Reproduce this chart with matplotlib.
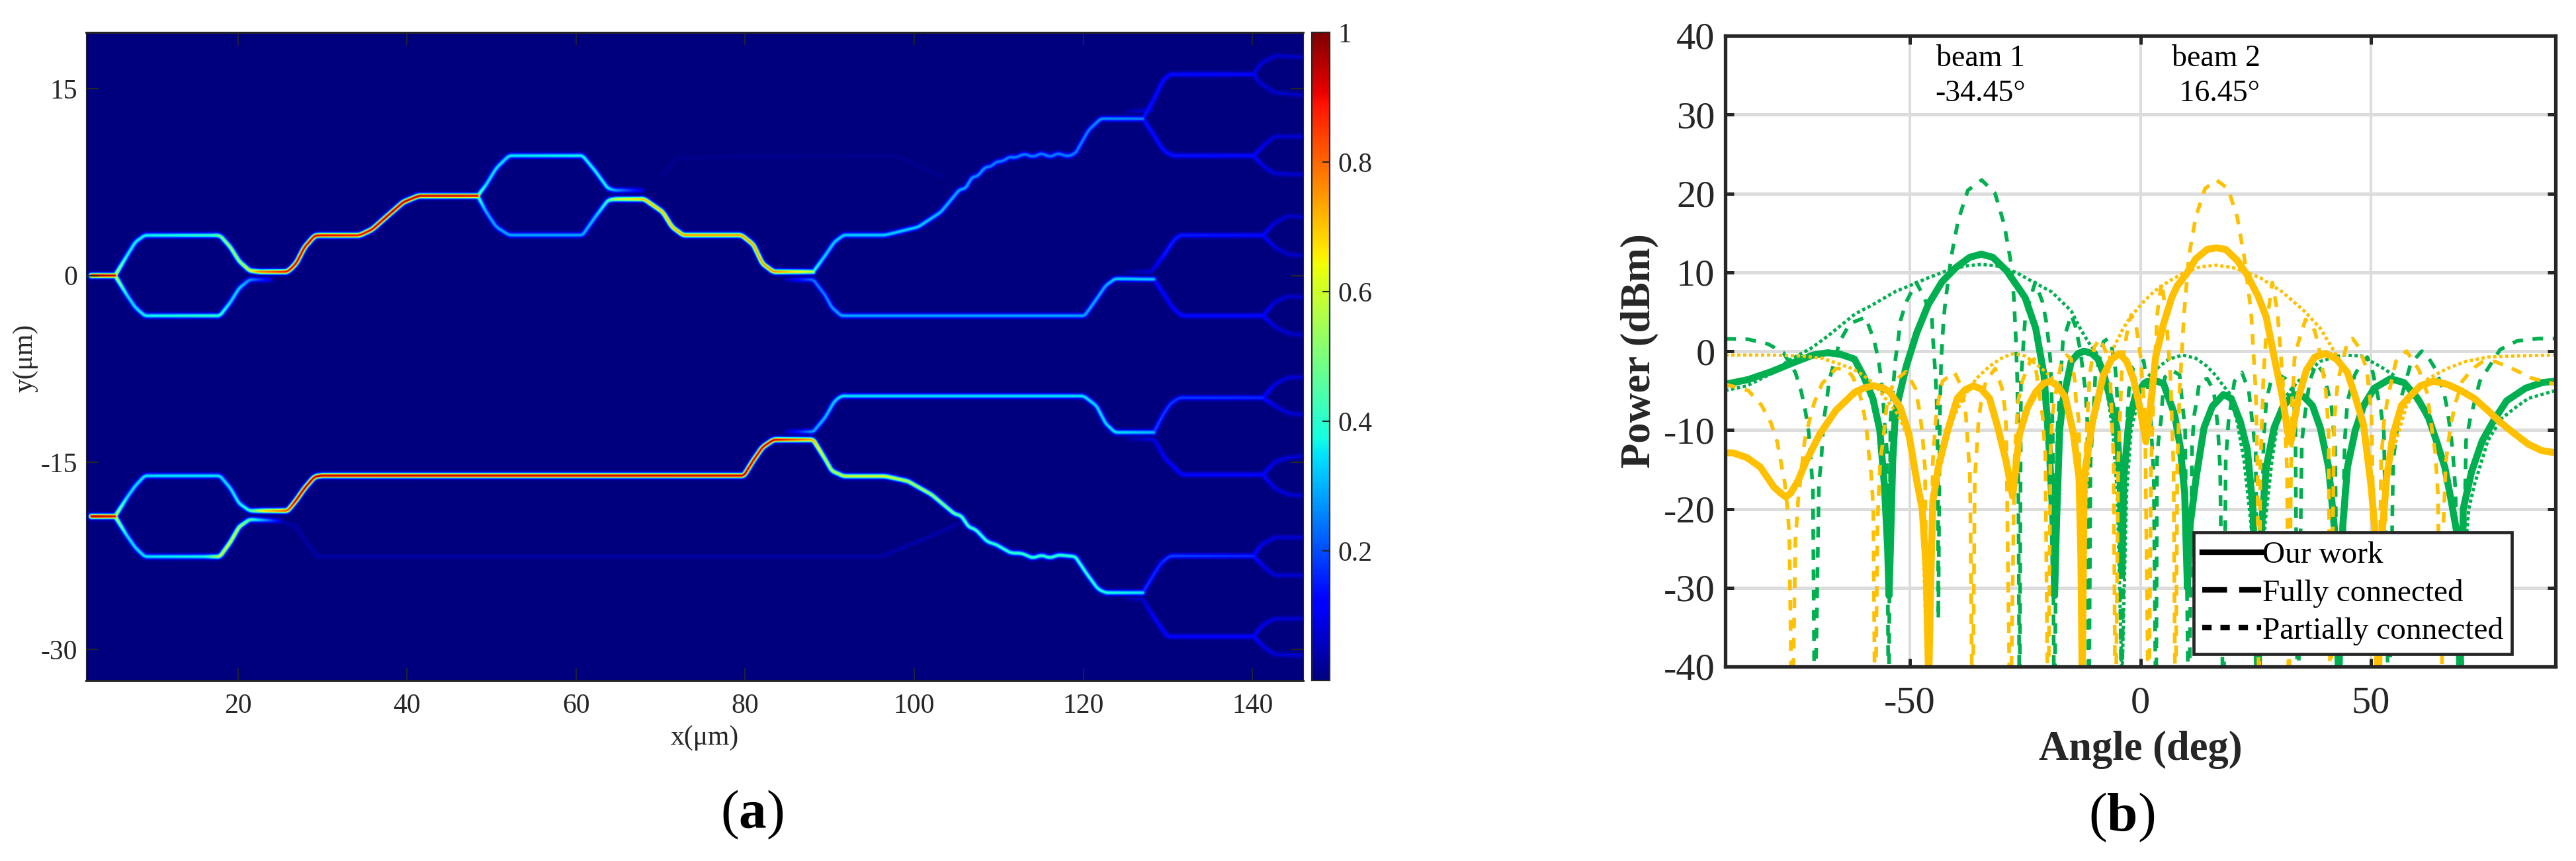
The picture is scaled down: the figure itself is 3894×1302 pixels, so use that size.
import numpy as np
import matplotlib
matplotlib.use("Agg")
import matplotlib.pyplot as plt
from matplotlib.lines import Line2D

plt.rcParams['font.family'] = ['Liberation Serif', 'DejaVu Serif']
plt.rcParams['axes.unicode_minus'] = False
plt.rcParams['mathtext.fontset'] = 'custom'
plt.rcParams['mathtext.rm'] = 'Liberation Serif'
plt.rcParams['mathtext.bf'] = 'Liberation Serif:bold'

W, H = 3894, 1302
INK = '#262626'

# ---- panel (a): waveguide network, points are (x um, y um, field intensity)
guide_in_a = [(2.6,0,1.0),(5.4,0,0.95)]
guide_a_up = [(5.4,0,0.6),(6.8,1.6,.38),(7.8,2.7,.38),(8.9,3.23,.38),(16.8,3.23,.42),(17.8,3.23,.5),(19.05,2.27,.55),
              (20.05,1.17,.55),(21.3,0.4,.62),(22.5,0.3,.8),(25.8,0.3,.92),(26.8,0.95,.95),(27.8,2.27,.95),(29,3.19,.95),
              (29.5,3.23,.95),(34.3,3.23,.92),(35.8,3.7,.95),(37.8,4.9,.97),(39.5,5.9,.97),(41.3,6.4,.97),(48.3,6.4,.95)]
guide_b_up = [(48.3,6.4,.5),(49.3,7.3,.36),(50.5,8.64,.36),(52,9.63,.36),(60.7,9.63,.38),(62.2,8.4,.38),(63.7,7.0,.38),(64.5,6.85,.3),(67.7,6.85,.1)]
guide_b_dn = [(48.3,6.4,.45),(49.3,5.1,.3),(50.5,3.9,.3),(52,3.25,.3),(60.7,3.25,.3),(62.2,4.7,.33),(63.7,6.05,.42),(64.5,6.14,.6),
              (68,6.14,.72),(70.2,5.1,.72),(71.3,3.9,.72),(72.6,3.25,.76),(79.5,3.25,.76),(80.9,2.5,.75),(82,0.95,.76),(83.3,0.3,.78),(88,0.3,.6)]
guide_c_up = [(88,0.3,.4),(89.4,1.6,.34),(90.5,2.7,.34),(91.6,3.25,.34),(96.5,3.25,.34),(100.4,3.9,.34),(103.1,5.1,.32),(105.3,6.9,.3),
              (106,7.0,.3),(106.8,7.9,.28),(107.5,8.0,.28),(108.3,8.7,.28),(109,8.75,.26),(109.7,9.15,.26),(110.5,9.2,.26),(111.2,9.55,.26),
              (111.9,9.45,.26),(113,9.8,.26),(114,9.5,.26),(115,9.85,.26),(116,9.5,.26),(117,9.85,.26),(118,9.55,.26),(119,9.8,.26),(120.6,11.7,.26),(122,12.6,.28),(127,12.6,.26)]
guide_d_up = [(127,12.6,.15),(128.3,14.14,.14),(129.4,15.7,.14),(130.2,16.16,.14),(140.1,16.16,.13)]
stub_d = [(125,13.15,.02),(127,13.26,.07),(128,13.3,.07)]
guide_d_dn = [(127,12.6,.15),(128.3,11.28,.14),(129.4,10.07,.14),(130.5,9.63,.15),(140.1,9.63,.14)]
fan_1 = [(140.1,16.16,.1),(140.9,17,.08),(142.6,17.66,.07),(146,17.55,.06)]
fan_2 = [(140.1,16.16,.1),(140.9,15.46,.08),(142.6,14.7,.07),(146,14.47,.06)]
fan_3 = [(140.1,9.63,.12),(141.5,10.6,.09),(142.6,11.17,.08),(146,11.17,.07)]
fan_4 = [(140.1,9.63,.12),(141.5,8.64,.09),(142.6,8.2,.08),(146,8.1,.07)]
guide_a_dn = [(5.4,0,.6),(6.8,-1.58,.36),(7.8,-2.57,.36),(8.9,-3.23,.38),(17.8,-3.23,.42),(19.05,-2.13,.35),(20.05,-1.03,.35),(21.3,-0.33,.28),(23.8,-0.33,.1)]
guide_c_dn = [(84.7,-0.33,.04),(88,-0.33,.25),(89.4,-1.58,.26),(90.2,-2.57,.28),(91.3,-3.23,.3),(120.1,-3.23,.3),(121.5,-1.9,.3),(122.6,-0.81,.3),(123.7,-0.26,.34),(128.3,-0.3,.33)]
guide_e_up = [(125,0.3,.02),(128,0.3,.08),(129.7,1.83,.16),(130.5,2.7,.16),(131.3,3.23,.16),(141.2,3.23,.14)]
guide_e_dn = [(128.3,-0.3,.14),(129.7,-1.7,.13),(130.5,-2.57,.13),(131.6,-3.23,.14),(141.2,-3.23,.14)]
fan_5 = [(141.2,3.23,.12),(142.6,4.24,.08),(144.2,4.8,.07),(146,4.7,.06)]
fan_6 = [(141.2,3.23,.12),(142.6,2.27,.08),(144.2,1.7,.07),(146,1.6,.06)]
fan_7 = [(141.2,-3.23,.12),(142.6,-2.13,.08),(144.2,-1.65,.07),(146,-1.74,.06)]
fan_8 = [(141.2,-3.23,.12),(142.6,-4.1,.08),(144.2,-4.66,.07),(146,-4.77,.06)]

guide_in_b = [(2.6,-19.35,1.0),(5.4,-19.35,.95)]
guide_f_up = [(5.4,-19.35,.6),(6.8,-17.83,.36),(7.8,-16.88,.36),(8.9,-16.09,.36),(17.8,-16.09,.36),(19.05,-17.1,.36),(20.05,-18.3,.38),(21.3,-18.9,.42),
              (23,-18.9,.7),(25.8,-18.9,.85),(26.8,-18.07,.95),(27.8,-17.1,.97),(29,-16.16,.97),(29.8,-16.07,.98),(79.8,-16.07,.97),(80.9,-14.86,.95),
              (82,-13.79,.95),(83.3,-13.19,.96),(88,-13.19,.75),(89.4,-14.74,.58),(90.2,-15.69,.58),(91.6,-16.12,.6),(96.5,-16.12,.62),(99.2,-16.52,.58),
              (102,-17.6,.55),(104.7,-19.14,.48),(105.5,-19.3,.46),(106.4,-20.2,.44),(107.2,-20.4,.44),(108.6,-21.4,.42),(109.6,-21.6,.42),(111.4,-22.3,.42),
              (112.6,-22.3,.42),(114,-22.7,.42),(115,-22.45,.42),(116,-22.7,.42),(117,-22.45,.42),(119,-22.58,.42),(120.4,-24,.42),
              (121.7,-25.2,.4),(122.6,-25.48,.4),(127,-25.48,.36)]
guide_g_dn = [(5.4,-19.35,.6),(6.8,-20.9,.36),(7.8,-21.87,.36),(8.9,-22.58,.36),(16,-22.58,.38),(17.8,-22.58,.6),(19.05,-21.4,.62),(20.05,-20.2,.58),(21.3,-19.6,.45),(24.8,-19.7,.12)]
faint_1 = [(24.8,-19.7,.035),(26.8,-20.2,.035),(29.3,-22.58,.035),(96,-22.58,.035),(102,-20.92,.035),(105,-20,.035)]
faint_2 = [(70.2,7.98,.015),(71.9,9.5,.015),(97.6,9.63,.015),(103.1,8,.015)]
guide_h_up = [(127,-25.48,.18),(128.3,-24,.17),(129.2,-23.06,.17),(130.2,-22.53,.2),(140.1,-22.53,.17)]
guide_h_dn = [(125,-26,.02),(127,-26,.07),(128.3,-27.46,.12),(129.9,-29,.13),(140.1,-29,.13)]
fan_9 = [(140.1,-22.53,.14),(141,-21.63,.09),(142.6,-21.04,.08),(146,-21.04,.07)]
fan_10 = [(140.1,-22.53,.14),(141.5,-23.53,.09),(142.6,-24.08,.08),(146,-24.08,.07)]
fan_11 = [(140.1,-29,.12),(141.2,-28.05,.09),(142.6,-27.57,.08),(146,-27.57,.07)]
fan_12 = [(140.1,-29,.12),(141.5,-29.95,.09),(142.6,-30.43,.08),(146,-30.55,.07)]
guide_i = [(84.7,-12.55,.04),(88,-12.55,.3),(89.4,-11.41,.32),(90.5,-10.1,.34),(91.3,-9.68,.36),(120,-9.68,.36),(121.5,-10.46,.35),(122.6,-11.89,.35),(123.7,-12.6,.36),(128.3,-12.6,.32)]
guide_j_up = [(128.3,-12.6,.2),(129.4,-11.17,.19),(130.2,-10.34,.19),(131.3,-9.82,.19),(141.2,-9.82,.17)]
guide_j_dn = [(125,-13.15,.02),(128.3,-13.15,.09),(129.7,-14.74,.12),(131.6,-16,.13),(141.2,-16,.13)]
fan_13 = [(141.2,-9.82,.14),(142.6,-8.73,.09),(144.2,-8.18,.08),(146,-8.18,.07)]
fan_14 = [(141.2,-9.82,.14),(142.6,-10.46,.09),(144.2,-11.05,.08),(146,-11.17,.07)]
fan_15 = [(141.2,-16,.12),(142.6,-14.98,.09),(144.2,-14.62,.08),(146,-14.5,.07)]
fan_16 = [(141.2,-16,.12),(142.6,-17.1,.09),(144.2,-17.6,.08),(146,-17.7,.07)]

guides = [guide_in_a, guide_a_up, guide_b_up, guide_b_dn, guide_c_up, guide_d_up, stub_d, guide_d_dn, fan_1, fan_2, fan_3, fan_4,
          guide_a_dn, guide_c_dn, guide_e_up, guide_e_dn, fan_5, fan_6, fan_7, fan_8, guide_in_b, guide_f_up, guide_g_dn, faint_1, faint_2,
          guide_h_up, guide_h_dn, fan_9, fan_10, fan_11, fan_12, guide_i, guide_j_up, guide_j_dn, fan_13, fan_14, fan_15, fan_16]

# ---- panel (b): radiation patterns, (angle deg, power dBm)
our_green = [(-90,-4.2),(-85,-3.6),(-80,-2.6),(-75,-1.4),(-71,-.5),(-67.8,-.2),(-65,-.4),(-62,-1),(-60,-3.2),(-58,-6),(-56.5,-10),(-55.5,-17),(-54.8,-25),(-54.5,-31),(-54.2,-25),(-53.7,-14),(-53.1,-7.7),(-52,-5),(-50.8,-2),(-48.5,2.3),(-46,5.9),(-43,8.8),(-40,10.6),(-37,11.9),(-34.5,12.3),(-32,11.9),(-29,10.2),(-27,8.5),(-25,6.8),(-22.7,2.9),(-20.9,-3),(-19.8,-12),(-18.9,-22),(-18.6,-31),(-18.2,-22),(-17.5,-10),(-16.8,-6.3),(-15,-1.3),(-13.5,-.3),(-12.2,0),(-10.5,-.3),(-9.2,-1),(-8,-2.8),(-6.9,-5.2),(-5.1,-9.7),(-4.4,-16),(-4,-28),(-3.6,-16),(-2.5,-9),(-1,-5.5),(1,-4),(3,-3.7),(5,-4.1),(7.4,-8),(8.6,-12),(9.6,-18),(10.2,-30),(10.8,-22),(12.1,-16),(13.8,-9.7),(15.6,-7),(18,-5.5),(19.7,-6),(21.7,-9),(23.2,-12.5),(24.4,-20),(25.5,-42),(26.3,-22),(27.3,-14.7),(29,-9.7),(30.8,-7.2),(32.6,-5.8),(34,-5.5),(35.5,-5.8),(37.3,-6.9),(39,-9.7),(40.8,-14.7),(42,-22),(43,-42),(43.9,-22),(44.9,-14.7),(46.6,-10),(48.4,-6.9),(50.7,-4.7),(54.2,-3.5),(57.2,-4),(60.1,-6),(62.4,-8.3),(64.2,-11.4),(66,-14.7),(67.4,-19),(68.6,-23),(69.3,-42),(70,-20),(71.8,-15.3),(74.1,-11.4),(76.5,-8.9),(79.4,-6.3),(83.5,-4.7),(87,-4),(90,-3.8)]
our_yellow = [(-90,-12.9),(-88.3,-12.9),(-85.3,-13.5),(-82.4,-14.7),(-79.5,-17.2),(-78,-18),(-76.9,-18.5),(-75.8,-18),(-74.2,-16.4),(-72.5,-14),(-69.5,-10.5),(-66,-7.5),(-61.9,-5.2),(-60,-4.7),(-58.1,-4.4),(-56,-4.6),(-54.3,-5.2),(-52,-7.2),(-50.2,-10.5),(-48.5,-16.4),(-47.3,-20),(-46.4,-28),(-45.9,-42),(-45.4,-28),(-45,-19),(-43.8,-14.7),(-42,-10.5),(-39.7,-6),(-38,-4.9),(-36.2,-4.4),(-34.5,-4.8),(-32.7,-6),(-30.9,-9.7),(-29.1,-14),(-27.7,-18.4),(-26.2,-10.5),(-24.5,-7.2),(-22.7,-5.2),(-21,-4.1),(-19.5,-3.8),(-18,-4.4),(-16.3,-5.8),(-14.5,-10.5),(-13.3,-16),(-12.9,-26),(-12.6,-42),(-12.2,-16),(-10.4,-9),(-8,-3),(-6.2,-1),(-4.5,-.3),(-3,-1.3),(-1.5,-3.5),(0,-7.5),(1.2,-11.5),(2.2,-7),(3.3,-.75),(5,3.4),(6.8,6.8),(8,8.3),(10,9.8),(12,11.7),(14.5,12.9),(16.5,13.1),(18.5,12.9),(21,11.5),(23,9.8),(25.5,7),(27.3,4.3),(29,-.75),(30.8,-5.8),(32,-10.5),(32.6,-11.6),(33.3,-9),(34.3,-5.8),(36,-2.4),(37.8,-.75),(40.2,-.3),(42.5,-1),(44.9,-2.7),(46.6,-5.8),(48.4,-9.4),(50.1,-17.5),(51,-24),(51.6,-42),(52.3,-24),(53.4,-16),(54.8,-10.5),(56.6,-6.9),(58.3,-5.8),(60.7,-4.4),(63.6,-3.8),(66.5,-4.2),(69.5,-5),(72.4,-6),(75.3,-7.5),(78.2,-9.1),(81.2,-10.5),(84.1,-11.8),(87,-12.6),(90,-12.9)]
part_green = [(-90,-5),(-85.3,-4.4),(-79.5,-2.7),(-76.6,-1.3),(-71.3,.4),(-67.8,1.9),(-61.9,4.7),(-58,5.9),(-53,7.6),(-50,8.3),(-46,9.3),(-42,10.2),(-38,10.8),(-34.5,11),(-31,10.8),(-27,10),(-23,8.7),(-19.2,7.5),(-15,5.1),(-12.8,2.6),(-11,.9),(-9.2,-.5),(-7.5,-4),(-6,-10),(-5,-18),(-4,-42),(-3,-18),(-2,-10),(0,-5),(2,-3),(4.2,-1.9),(6.2,-1),(9.2,-.5),(12,-.9),(14.4,-1.9),(16.2,-3),(18,-4.4),(19.4,-5.4),(21,-9),(22.5,-14),(24,-22),(25.5,-42),(27,-22),(28.5,-14),(30,-8),(31.3,-6),(32.6,-4.9),(35.5,-3),(39,-1.3),(43.7,-.5),(47.8,-.6),(51.9,-1.9),(54.8,-3),(57.7,-4.7),(60.7,-6.9),(63,-9.7),(65.4,-14),(67.7,-19),(69,-27),(69.5,-42),(70.2,-27),(71.2,-20),(72.4,-17),(75.3,-11.4),(78.2,-8.6),(81.2,-7.2),(84.1,-6),(87,-5.5),(90,-5)]
part_yellow = [(-90,-.5),(-80,-.5),(-73.6,-.6),(-69,-.9),(-65.4,-1.6),(-62.5,-2.2),(-60.2,-3),(-57.8,-4.1),(-54.9,-6.3),(-52.6,-8),(-50.8,-10.3),(-49.6,-12.8),(-48.5,-16),(-47.2,-22),(-46.2,-42),(-45.2,-22),(-44,-15),(-42.6,-12),(-40.9,-8.9),(-38.5,-6),(-35.6,-3.5),(-32.7,-1.9),(-29.7,-.75),(-27.4,-.3),(-25,-.6),(-22.7,-1.6),(-20.4,-2.7),(-18.6,-3.7),(-16.5,-6),(-15,-10),(-13.5,-17),(-12.6,-42),(-11.8,-18),(-10.5,-10),(-8.5,-4),(-6.3,-.2),(-4,2.6),(-2.2,4.3),(.6,6.2),(3,7.6),(6,8.8),(9,9.8),(13,10.7),(16.5,10.9),(20,10.6),(23,10),(26,9.3),(30.8,7.5),(35.5,5.1),(39,2.9),(42,0),(44,-2),(46,-5),(48,-9),(49.5,-14),(50.6,-22),(51.5,-42),(52.5,-22),(54,-14),(55.4,-11.4),(57.7,-6.9),(60,-4.8),(62.4,-3.5),(66.5,-2.2),(70.6,-1.3),(75.3,-.75),(81.2,-.6),(90,-.5)]
full_green = [(-90,1.56),(-85,1.5),(-80.7,.9),(-77.4,-.2),(-74.8,-2.7),(-73.5,-5.2),(-72.6,-7.7),(-71.9,-10.3),(-71,-17.5),(-70.6,-50),(-69.7,-16.7),(-69.2,-14),(-68.7,-8.9),(-68,-6.3),(-67.5,-3.8),(-65.2,1.2),(-63,3.5),(-59.6,4.3),(-57.8,1.5),(-56.8,-1),(-56.2,-3.5),(-55.8,-6),(-55.5,-8.9),(-54.9,-13),(-54.6,-50),(-54.2,-8.9),(-53.1,-1),(-52.5,1.5),(-52,3.9),(-50.8,6.2),(-48.6,8.7),(-47,7),(-45.2,4.3),(-45,1.8),(-44.7,-.75),(-44.4,-3.3),(-44.2,-5.8),(-43.9,-13.9),(-43.8,-34),(-43.5,-9),(-43.2,-1.3),(-42.7,3.7),(-42.3,6.2),(-41,12),(-39.5,16.6),(-37.4,20.4),(-34.4,21.7),(-31.5,20),(-29.5,16),(-28,11),(-27.4,6.5),(-27,1.5),(-26.7,-3.5),(-26.5,-11),(-26.2,-50),(-25.9,-4),(-25.3,1.5),(-25,4),(-24,6.5),(-22.8,8.7),(-21.2,6.2),(-20.4,3.7),(-19.9,1.2),(-19.5,-1.3),(-19,-10),(-18.7,-50),(-18,-10),(-16.8,1.2),(-15,4.6),(-14,3),(-13,0),(-12.5,-2.4),(-11.9,-5),(-11.5,-9),(-11.2,-50),(-10.8,-14),(-10,-6),(-9.8,-3.3),(-8,1.2),(-7,1.6),(-6.2,.5),(-5.4,-2.4),(-5.1,-5),(-4.5,-14),(-4.1,-50),(-3.5,-15),(-2.5,-5),(-1.5,-2),(.7,-1.2),(2,-6),(2.9,-16),(3.4,-50),(3.6,-13.9),(3.9,-11.4),(4.5,-8.6),(4.8,-6),(5.3,-3.3),(7,-2.5),(8.5,-3),(8.9,-5.5),(9.7,-10),(10.5,-50),(11.2,-12),(11.7,-8),(12.3,-6),(12.8,-3.8),(14.5,-3.5),(15.9,-5),(16.8,-9.7),(17.3,-15),(18,-50),(18.5,-14),(19.1,-8.9),(20.4,-3.8),(22,-2.7),(23.5,-5),(25,-12.8),(25.6,-50),(26.7,-11.4),(27.3,-6.3),(28.3,-3.8),(30,-3),(31.5,-3.5),(33,-4.4),(33.6,-9),(34.1,-50),(35,-11.6),(35.5,-8.8),(36.7,-3.8),(37.9,-1.9),(38.2,-1.6),(39.6,-2.7),(40.5,-4.7),(41.4,-6.9),(42.2,-12),(43,-50),(44.3,-11.4),(44.9,-6.3),(46.5,-3),(47.8,-1.6),(49.2,-.75),(50.4,-2.7),(52.2,-7.7),(52.8,-10.3),(53.9,-50),(54.8,-13.9),(56.5,-6),(58.6,-1.6),(61,0),(62.1,-.5),(63.9,-2.2),(65.7,-5),(66.5,-7.2),(67.1,-9.7),(67.7,-12.5),(68.3,-17.5),(69.5,-50),(70.6,-11.4),(71.5,-8.6),(73.6,-3.8),(78,.2),(81.7,1.3),(86.4,1.6),(90,1.6)]
full_yellow = [(-90,-4.2),(-85,-5),(-82.1,-6.9),(-80.1,-9.1),(-78.7,-11.6),(-77.9,-14.2),(-77.1,-16.7),(-76.6,-19.5),(-76.3,-21.7),(-76.1,-24),(-75.5,-50),(-74.8,-24),(-74.5,-21.6),(-74.2,-18.9),(-72.8,-11.4),(-71.8,-8.9),(-70.7,-6.5),(-69,-4.1),(-66,-2.2),(-64,-2.3),(-62.5,-3.1),(-61,-5),(-59.9,-7.9),(-59.3,-10.4),(-58.9,-12.9),(-58.4,-15.4),(-58.1,-18),(-57.9,-20.6),(-57.5,-50),(-57,-21.7),(-56.4,-13.9),(-55.8,-11.4),(-54.9,-6.3),(-53.4,-3.8),(-50.8,-2.6),(-48.8,-4.7),(-48,-7.2),(-47.4,-9.8),(-47,-12.5),(-46.7,-14.9),(-46,-50),(-45,-14),(-44.4,-8.9),(-43.8,-6.3),(-42.9,-3.8),(-40.3,-2.7),(-38.8,-4.5),(-37.9,-7.6),(-37.6,-10.3),(-37.3,-12.8),(-37,-15.3),(-36.9,-17.8),(-36.4,-50),(-35.9,-16),(-35.6,-13.6),(-35.1,-8.9),(-34.5,-6.3),(-33.5,-3.8),(-31.5,-2.2),(-30,-4.7),(-29.4,-7.2),(-29.1,-9.7),(-28.2,-50),(-27.3,-14),(-26.8,-8.9),(-26.5,-6.3),(-25.6,-3.8),(-23.9,-1.3),(-23,-1),(-22.4,-3.3),(-21.2,-8.3),(-20.9,-10.8),(-20.6,-13.3),(-20,-50),(-19.5,-13),(-19.2,-8.9),(-18.6,-6),(-17.1,-1.3),(-16,-.5),(-15,-1),(-14.2,-3.8),(-14,-6),(-13.4,-8.6),(-13.3,-11),(-12.6,-50),(-12,-14),(-11,-3),(-10,.5),(-8.8,1.6),(-7.5,0),(-6.5,-4),(-5.8,-14),(-5.4,-50),(-4.8,-14),(-4,-2),(-3,2),(-2,4.6),(-1,3.5),(0,-.5),(1,-8),(1.8,-50),(2.3,-15),(3,-3),(3.7,5),(4.6,8.7),(5.5,5),(6.5,-3),(7.2,-15),(7.6,-50),(8,-15),(8.5,-5),(9.5,5),(10.5,12),(12,17),(14,20.6),(16.5,21.7),(19,20.6),(21,17),(22.5,12),(24,5),(25,-5),(25.4,-15),(25.7,-50),(26,-15),(26.7,-3),(27.5,4),(28.6,8.7),(29.7,5),(30.8,-3),(31.8,-15),(32.2,-50),(32.6,-18),(32.9,-6.3),(33.2,-3.5),(33.4,-1),(34.3,1.2),(35.8,4),(37.8,2.6),(38.7,.4),(39.6,-2.7),(40.2,-5),(40.5,-7.5),(40.8,-10.3),(41.2,-50),(42,-9),(42.8,-3.8),(44.9,1.2),(46,1.6),(47.5,.4),(49,-2.2),(49.6,-5),(50.1,-8),(51.4,-50),(52.2,-13.9),(52.5,-11.4),(52.8,-9.1),(53.6,-6),(55.4,-1.3),(57.7,0),(58.3,-.5),(60.4,-2.4),(62.1,-5.2),(62.7,-7.7),(63.3,-10.3),(63.9,-12.8),(64.2,-15.3),(64.5,-18),(65.2,-50),(65.7,-22),(65.9,-19),(66.2,-14.2),(66.8,-11.4),(67.4,-9.1),(68.3,-6.6),(69.8,-3.8),(72.1,-2.2),(74,-1.4),(76.8,-1.3),(80.6,-2.2),(84.7,-3.4),(90,-4.2)]
legend_labels = ['Our work', 'Fully connected', 'Partially connected']
beam_labels = [('beam 1', '-34.45°'), ('beam 2', ' 16.45°')]
beam_angles = [-34.7, 16.4]


def ax_px(l, t, r, b):
    return [l / W, 1 - b / H, (r - l) / W, (b - t) / H]


def densify(p, step=0.6):
    """Add drawing vertices along a guide so corner rounding stays local."""
    p = np.asarray(p, float)
    out = [p[0]]
    for a, b in zip(p[:-1], p[1:]):
        n = max(1, int(np.hypot(b[0] - a[0], b[1] - a[1]) / step))
        for k in range(1, n + 1):
            out.append(a + (b - a) * k / n)
    return np.array(out)


def chaikin(p, n=2):
    for _ in range(n):
        q = 0.75 * p[:-1] + 0.25 * p[1:]
        s = 0.25 * p[:-1] + 0.75 * p[1:]
        m = np.empty((2 * len(q), 3))
        m[0::2], m[1::2] = q, s
        p = np.vstack([p[0], m, p[-1]])
    return p


XL, YL = (2.0, 146.0), (-32.5, 19.5)
PX, PY = 12.78, 18.85        # screen pixels per micron
SIG = 3.6
nx, ny = 1440, 780
xs = np.linspace(*XL, nx)
ys = np.linspace(*YL, ny)
field = np.zeros((ny, nx))
for g in guides:
    p = chaikin(densify(g), 2)
    for a, b in zip(p[:-1], p[1:]):
        pad = 3.0 * SIG
        x0, x1 = min(a[0], b[0]) - pad / PX, max(a[0], b[0]) + pad / PX
        y0, y1 = min(a[1], b[1]) - pad / PY, max(a[1], b[1]) + pad / PY
        i0, i1 = np.searchsorted(xs, [x0, x1])
        j0, j1 = np.searchsorted(ys, [y0, y1])
        if i1 <= i0 or j1 <= j0:
            continue
        gx, gy = np.meshgrid(xs[i0:i1], ys[j0:j1])
        dx, dy = (b[0] - a[0]) * PX, (b[1] - a[1]) * PY
        px, py = (gx - a[0]) * PX, (gy - a[1]) * PY
        t = np.clip((px * dx + py * dy) / max(dx * dx + dy * dy, 1e-9), 0, 1)
        d2 = (px - t * dx) ** 2 + (py - t * dy) ** 2
        v = (a[2] + t * (b[2] - a[2])) * np.exp(-d2 / SIG ** 2)
        field[j0:j1, i0:i1] = np.maximum(field[j0:j1, i0:i1], v)

fig = plt.figure(figsize=(W / 100, H / 100), dpi=100, facecolor='white')

# panel (a)
ax = fig.add_axes(ax_px(129.5, 49, 1970, 1029))
im = ax.imshow(field, origin='lower', extent=[*XL, *YL], aspect='auto', cmap='jet', vmin=0, vmax=1, interpolation='bilinear')
ax.set_xticks(range(20, 141, 20))
ax.set_yticks([-30, -15, 0, 15])
ax.tick_params(axis='x', direction='in', length=14, width=1.2, color=INK, top=True, labelsize=30, labelcolor=INK, pad=14)
ax.tick_params(axis='y', direction='in', length=14, width=1.5, color=INK, right=True, labelsize=30, labelcolor=INK, pad=9)
for k, s in ax.spines.items():
    s.set_color(INK)
    s.set_linewidth(2.2 if k in ('top', 'bottom') else 0.8)
fig.text(1065 / W, 1 - 1116 / H, 'x(μm)', fontsize=30, color=INK, ha='center', va='center')
fig.text(38 / W, 1 - 541 / H, 'y(μm)', fontsize=30, color=INK, ha='center', va='center', rotation=90)

cax = fig.add_axes(ax_px(1983, 49, 2010, 1029))
cb = fig.colorbar(im, cax=cax)
cb.set_ticks([0.2, 0.4, 0.6, 0.8, 1.0], labels=['0.2', '0.4', '0.6', '0.8', '1'])
cax.tick_params(direction='in', length=8, width=1.5, color=INK, labelsize=30, labelcolor=INK, pad=9)
cb.outline.set_edgecolor(INK)
cb.outline.set_linewidth(1.6)

fig.text(1137 / W, 1 - 1232 / H, r'($\mathbf{a}$)', fontsize=60, color='black', ha='center', va='center')

# panel (b)
bx = fig.add_axes(ax_px(2608, 54, 3863, 1008))
GREEN, YELLOW = '#00B050', '#FFC000'
bx.set_xlim(-90, 90)
bx.set_ylim(-40, 40)
bx.set_xticks([-50, 0, 50])
bx.set_yticks(range(-40, 41, 10))
bx.xaxis.grid(True, color='#dcdcdc', lw=2.9, zorder=0)
bx.yaxis.grid(True, color='#dcdcdc', lw=3.6, zorder=0)
bx.set_axisbelow(True)
DOT = (0, (1.0, 0.8))
DASH = (0, (2.9, 2.6))
series = [(part_green, GREEN, 3.6, DOT), (full_green, GREEN, 4.0, DASH), (our_green, GREEN, 7.6, '-'),
          (part_yellow, YELLOW, 3.6, DOT), (full_yellow, YELLOW, 4.0, DASH), (our_yellow, YELLOW, 7.6, '-')]
for pts, col, lw, ls in series:
    xy = np.array(pts)
    line, = bx.plot(xy[:, 0], xy[:, 1], color=col, lw=lw, ls=ls)
    line.set_dash_capstyle('butt')
    line.set_solid_joinstyle('round')
bx.tick_params(direction='in', length=9, width=3.6, color=INK, top=True, right=True, labelsize=42, labelcolor=INK, pad=11)
bx.tick_params(axis='x', pad=21)
for s in bx.spines.values():
    s.set_color(INK)
    s.set_linewidth(3.8)
bx.set_xlabel('Angle (deg)', fontsize=45, fontweight='bold', color=INK, labelpad=11)
fig.text(2478 / W, 1 - 531 / H, 'Power (dBm)', fontsize=45, fontweight='bold', color=INK, ha='center', va='center', rotation=90)
for a, (l1, l2) in zip(beam_angles, beam_labels):
    bx.annotate(l1, (a, 40), xytext=(0, -35 / 1.389), textcoords='offset points', ha='center', va='center', fontsize=33, color='black')
    bx.annotate(l2, (a, 40), xytext=(0, -88 / 1.389), textcoords='offset points', ha='center', va='center', fontsize=33, color='black')
handles = [Line2D([], [], color='black', lw=6, ls='-'),
           Line2D([], [], color='black', lw=6, ls=(0, (4.5, 2.2))),
           Line2D([], [], color='black', lw=6, ls=(0, (1.7, 1.6)))]
lg = bx.legend(handles, legend_labels, loc='lower left', bbox_to_anchor=((3316 - 2608) / 1255, (1008 - 989) / 954),
               borderaxespad=0, fontsize=34, frameon=True, fancybox=False, framealpha=1, edgecolor=INK,
               handlelength=1.87, handletextpad=0.05, labelspacing=0.3, borderpad=0.28)
lg.get_frame().set_linewidth(3.4)
fig.text(3207 / W, 1 - 1236 / H, r'($\mathbf{b}$)', fontsize=60, color='black', ha='center', va='center')

fig.savefig('out.png', dpi=100, facecolor='white')
